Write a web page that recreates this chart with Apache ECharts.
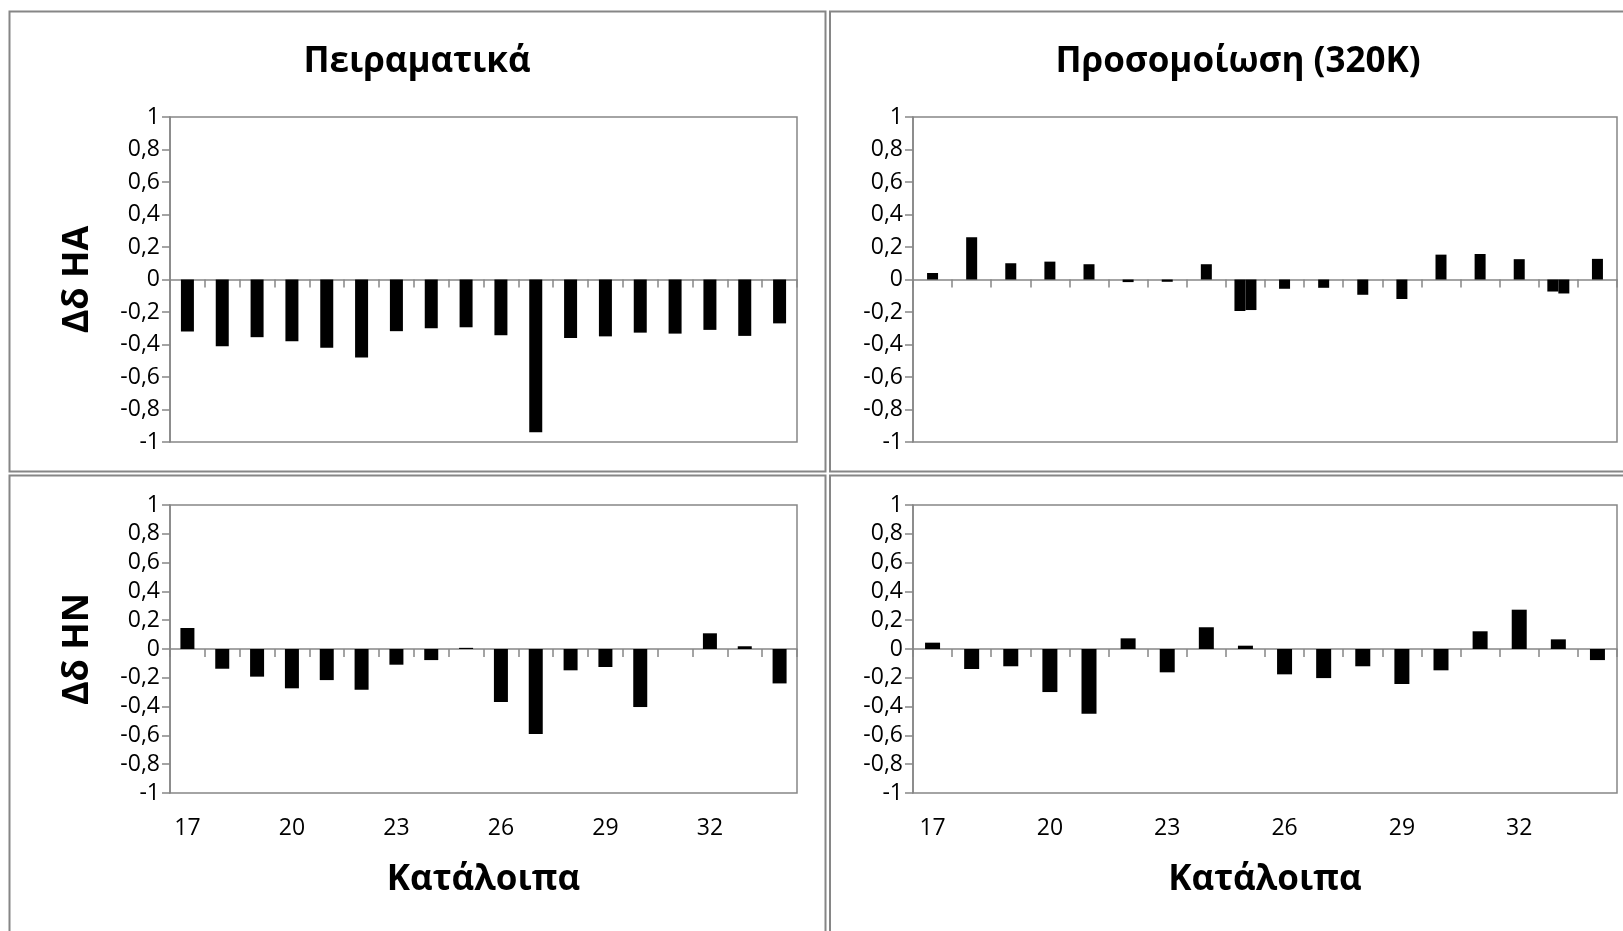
<!DOCTYPE html>
<html>
<head>
<meta charset="utf-8">
<title>Δδ HA / HN</title>
<script src="https://cdn.jsdelivr.net/npm/echarts@6/dist/echarts.min.js"></script>
<style>
  html, body { margin: 0; padding: 0; background: #fff; }
  #chart { width: 1623px; height: 931px; }
</style>
</head>
<body>
<div id="chart"></div>
<script>
// κατάλοιπα 17 - 34
const residues = ['17', '18', '19', '20', '21', '22', '23', '24', '25', '26', '27', '28', '29', '30', '31', '32', '33', '34'];

// Πειραματικά
const expHA = [-0.32, -0.41, -0.355, -0.38, -0.42, -0.48, -0.318, -0.30, -0.294, -0.343, -0.94, -0.36, -0.35, -0.327, -0.333, -0.31, -0.347, -0.27];
const expHN = [0.146, -0.137, -0.192, -0.273, -0.216, -0.283, -0.109, -0.077, 0.008, -0.368, -0.591, -0.148, -0.125, -0.403, 0, 0.109, 0.019, -0.239];

// Προσομοίωση (320K)
const simHA = [0.04, 0.26, 0.10, 0.11, 0.094, -0.016, -0.014, 0.094, -0.194, -0.057, -0.051, -0.094, -0.12, 0.153, 0.157, 0.125, -0.074, 0.127];
// δεύτερη μπάρα δίπλα στην πρώτη (25 και 33)
const simHA2 = [null, null, null, null, null, null, null, null, -0.188, null, null, null, null, null, null, null, -0.086, null];
const simHN = [0.044, -0.139, -0.12, -0.299, -0.45, 0.074, -0.162, 0.151, 0.023, -0.176, -0.202, -0.12, -0.243, -0.148, 0.123, 0.273, 0.067, -0.077];

const yMin = -1, yMax = 1, yStep = 0.2;

const grey = '#868686';
const font = '"Open Sans", "Noto Sans", sans-serif';

const myChart = echarts.init(document.getElementById('chart'));

// θέσεις των τεσσάρων διαγραμμάτων
const grids = [
  { left: 170, top: 117, width: 627, height: 325 },
  { left: 913, top: 117, width: 704, height: 325 },
  { left: 170, top: 505, width: 627, height: 288 },
  { left: 913, top: 505, width: 704, height: 288 }
];

function yAxis(g, name) {
  return {
    gridIndex: g,
    type: 'value',
    min: yMin,
    max: yMax,
    interval: yStep,
    name: name,
    nameLocation: 'middle',
    nameGap: 74,
    nameRotate: 90,
    nameTextStyle: { fontFamily: font, fontSize: 36, fontWeight: 'bold', color: '#000' },
    axisLine: { show: true, lineStyle: { color: grey, width: 1.5 } },
    axisTick: { show: true, length: 8, lineStyle: { color: grey, width: 1.5 } },
    splitLine: { show: false },
    axisLabel: {
      margin: 10,
      fontFamily: font,
      fontSize: 23,
      color: '#000',
      formatter: v => String(Math.round(v * 10) / 10).replace('.', ',')
    }
  };
}

// άξονας στο μηδέν (γραμμή και υποδιαιρέσεις)
function zeroAxis(g) {
  return {
    gridIndex: g,
    type: 'category',
    data: residues,
    position: 'bottom',
    boundaryGap: true,
    axisLine: { onZero: true, lineStyle: { color: grey, width: 1.5 } },
    axisTick: { show: true, interval: 0, length: 8, lineStyle: { color: grey, width: 1.5 } },
    axisLabel: { show: false }
  };
}

// άξονας με τις ετικέτες στο κάτω μέρος
function labelAxis(g, show) {
  return {
    gridIndex: g,
    type: 'category',
    data: residues,
    position: 'bottom',
    axisLine: { show: false, onZero: false },
    axisTick: { show: false },
    axisLabel: { show: show, interval: 2, margin: 24, fontFamily: font, fontSize: 23, color: '#000' },
    name: show ? 'Κατάλοιπα' : '',
    nameLocation: 'middle',
    nameGap: 70,
    nameTextStyle: { fontFamily: font, fontSize: 35, fontWeight: 'bold', color: '#000' }
  };
}

const xAxes = [
  zeroAxis(0), labelAxis(0, false),
  zeroAxis(1), labelAxis(1, false),
  zeroAxis(2), labelAxis(2, true),
  zeroAxis(3), labelAxis(3, true),
  // κρυφός άξονας για τις διπλές μπάρες
  { gridIndex: 1, type: 'category', data: residues, show: false }
];

function bar(x, y, data, width) {
  return {
    type: 'bar',
    xAxisIndex: x,
    yAxisIndex: y,
    data: data,
    barWidth: width,
    itemStyle: { color: '#000' },
    silent: true
  };
}

const simHAMain = simHA.map((v, i) => (simHA2[i] == null ? v : null));
const simHALeft = simHA.map((v, i) => (simHA2[i] == null ? null : v));

const titleStyle = { fontFamily: font, fontSize: 35, fontWeight: 'bold', color: '#000' };

const option = {
  animation: false,
  backgroundColor: '#fff',
  title: [
    { text: 'Πειραματικά', left: 417, top: 45, padding: 0, textAlign: 'center', textStyle: titleStyle },
    { text: 'Προσομοίωση (320K)', left: 1238, top: 45, padding: 0, textAlign: 'center', textStyle: titleStyle }
  ],
  graphic: [
    { type: 'rect', shape: { x: 9.5, y: 11.5, width: 816, height: 460 }, style: { fill: null, stroke: grey, lineWidth: 2 }, z: -1 },
    { type: 'rect', shape: { x: 830, y: 11.5, width: 820, height: 460 }, style: { fill: null, stroke: grey, lineWidth: 2 }, z: -1 },
    { type: 'rect', shape: { x: 9.5, y: 475.5, width: 816, height: 480 }, style: { fill: null, stroke: grey, lineWidth: 2 }, z: -1 },
    { type: 'rect', shape: { x: 830, y: 475.5, width: 820, height: 480 }, style: { fill: null, stroke: grey, lineWidth: 2 }, z: -1 }
  ],
  grid: grids.map(g => Object.assign({ show: true, borderColor: grey, borderWidth: 1.5, backgroundColor: 'transparent' }, g)),
  xAxis: xAxes,
  yAxis: [yAxis(0, 'Δδ HA'), yAxis(1, ''), yAxis(2, 'Δδ HN'), yAxis(3, '')],
  series: [
    bar(0, 0, expHA, 13),
    bar(2, 1, simHAMain, 11),
    Object.assign(bar(8, 1, simHALeft, 11), { barGap: '0%' }),
    Object.assign(bar(8, 1, simHA2, 11), { barGap: '0%' }),
    bar(4, 2, expHN, 14),
    bar(6, 3, simHN, 15)
  ]
};

myChart.setOption(option);
</script>
</body>
</html>
